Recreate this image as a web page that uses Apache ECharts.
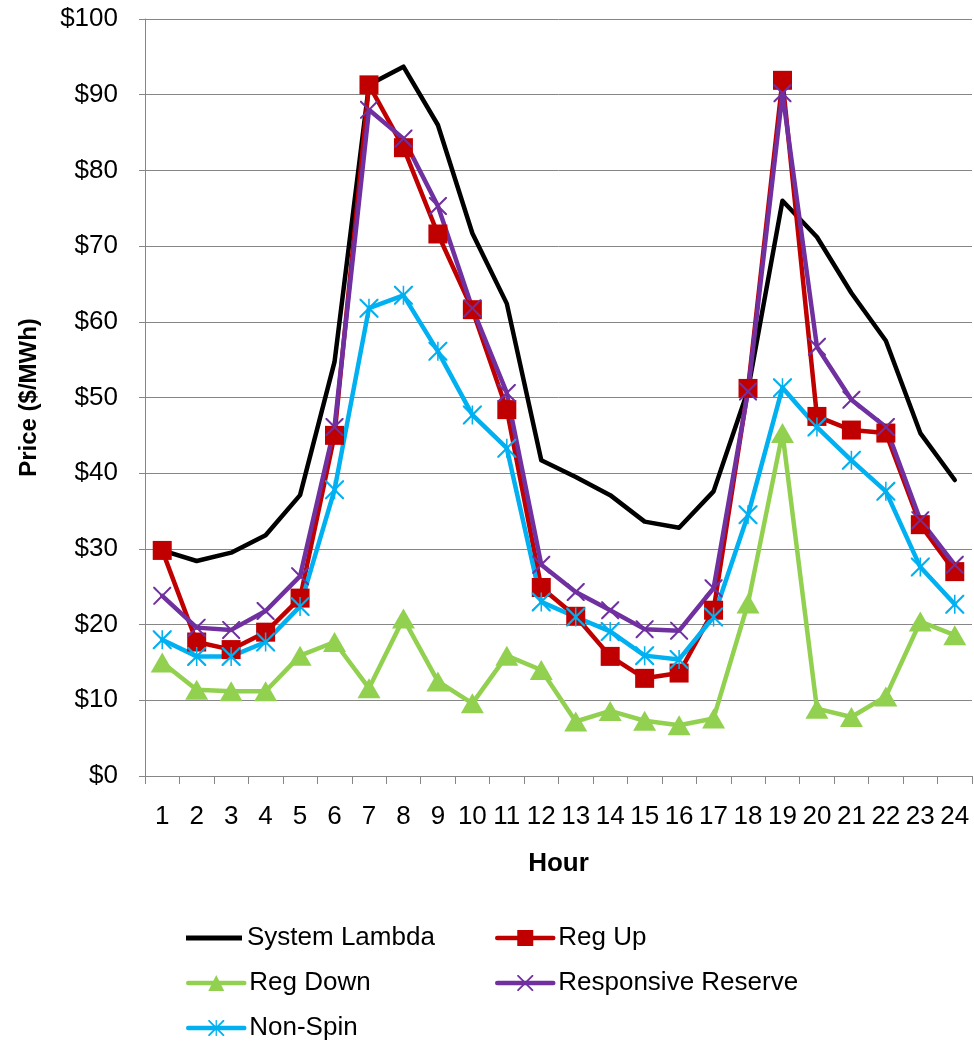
<!DOCTYPE html>
<html>
<head>
<meta charset="utf-8">
<script src="https://cdn.jsdelivr.net/npm/echarts@6/dist/echarts.min.js"></script>
<style>
  html, body { margin: 0; padding: 0; background: #fff; }
  #chart { width: 974px; height: 1043px; }
</style>
</head>
<body>
<div id="chart"></div>
<script>
// Hourly prices ($/MWh)
const hours = ['1','2','3','4','5','6','7','8','9','10','11','12','13','14','15','16','17','18','19','20','21','22','23','24'];
const systemLambda = [29.8, 28.4, 29.5, 31.8, 37.1, 54.7, 91.3, 93.7, 86.0, 71.7, 62.4, 41.7, 39.5, 37.1, 33.6, 32.8, 37.6, 51.0, 76.0, 71.2, 63.8, 57.5, 45.3, 39.1];
const regUp = [29.8, 17.7, 16.7, 19.0, 23.5, 45.0, 91.3, 83.0, 71.6, 61.6, 48.4, 24.9, 21.1, 15.8, 12.9, 13.6, 21.9, 51.2, 91.9, 47.5, 45.7, 45.3, 33.2, 27.0];
const regDown = [15.0, 11.4, 11.2, 11.2, 15.9, 17.7, 11.6, 20.8, 12.5, 9.6, 15.9, 14.0, 7.2, 8.6, 7.3, 6.7, 7.6, 22.8, 45.3, 8.9, 7.8, 10.5, 20.4, 18.6];
const responsiveReserve = [23.8, 19.6, 19.3, 21.8, 26.4, 46.1, 88.0, 84.2, 75.3, 61.8, 50.6, 27.9, 24.3, 21.9, 19.4, 19.2, 24.8, 50.8, 90.2, 56.7, 49.7, 46.1, 33.8, 27.9];
const nonSpin = [18.0, 15.8, 15.8, 17.7, 22.4, 37.8, 61.8, 63.5, 56.1, 47.7, 43.3, 23.0, 21.0, 19.1, 15.9, 15.4, 21.0, 34.5, 51.3, 46.1, 41.7, 37.6, 27.6, 22.7];
const seriesNames = ['System Lambda', 'Reg Up', 'Reg Down', 'Responsive Reserve', 'Non-Spin'];

const FONT = 'Liberation Sans, Arial, sans-serif';
const LINE_W = 4.5;

// thin X and asterisk marker outlines
const xMark = 'path://M0,0 L1.6,0 L10,8.4 L18.4,0 L20,0 L20,1.6 L11.6,10 L20,18.4 L20,20 L18.4,20 L10,11.6 L1.6,20 L0,20 L0,18.4 L8.4,10 L0,1.6 Z';
const starMark = 'path://M0,0 L1.6,0 L10,8.4 L18.4,0 L20,0 L20,1.6 L11.6,10 L20,18.4 L20,20 L18.4,20 L10,11.6 L1.6,20 L0,20 L0,18.4 L8.4,10 L0,1.6 Z M9.2,0 L10.8,0 L10.8,20 L9.2,20 Z';

function lineSeries(name, data, color, symbol, size) {
  return {
    name: name,
    type: 'line',
    data: data,
    symbol: symbol,
    symbolSize: size,
    showSymbol: symbol !== 'none',
    showAllSymbol: true,
    lineStyle: { color: color, width: LINE_W, cap: 'round', join: 'round' },
    itemStyle: { color: color },
    emphasis: { disabled: true },
    animation: false
  };
}

function legendAt(name, left, centerY, opts) {
  const o = opts || {};
  return Object.assign({
    data: [name],
    left: left,
    top: centerY - 13,
    itemWidth: 56,
    itemHeight: 20,
    itemGap: 0,
    padding: 0,
    lineStyle: { width: LINE_W },
    textStyle: { fontFamily: FONT, fontSize: 26, color: '#000', lineHeight: 26 }
  }, o);
}

const chart = echarts.init(document.getElementById('chart'), null, { renderer: 'canvas' });
chart.setOption({
  backgroundColor: '#fff',
  animation: false,
  grid: { left: 145, right: 2, top: 19, bottom: 267, containLabel: false },
  legend: [
    legendAt(seriesNames[0], 186, 938, { icon: 'rect', itemHeight: 5 }),
    legendAt(seriesNames[1], 495, 938),
    legendAt(seriesNames[2], 186, 983),
    legendAt(seriesNames[3], 495, 983),
    legendAt(seriesNames[4], 186, 1028)
  ],
  xAxis: {
    type: 'category',
    data: hours,
    boundaryGap: true,
    name: 'Hour',
    nameLocation: 'middle',
    nameGap: 75,
    nameTextStyle: { fontFamily: FONT, fontSize: 26, fontWeight: 'bold', color: '#000' },
    axisLine: { lineStyle: { color: '#868686', width: 1 } },
    axisTick: { show: true, length: 8, lineStyle: { color: '#868686' } },
    axisLabel: { fontFamily: FONT, fontSize: 26, color: '#000', margin: 28, interval: 0 },
    splitLine: { show: false }
  },
  yAxis: {
    type: 'value',
    min: 0,
    max: 100,
    interval: 10,
    name: 'Price ($/MWh)',
    nameLocation: 'middle',
    nameGap: 104,
    nameRotate: 90,
    nameTextStyle: { fontFamily: FONT, fontSize: 24, fontWeight: 'bold', color: '#000' },
    axisLine: { show: true, lineStyle: { color: '#868686', width: 1 } },
    axisTick: { show: true, length: 6, lineStyle: { color: '#868686' } },
    axisLabel: { fontFamily: FONT, fontSize: 26, color: '#000', margin: 27, formatter: function (v) { return '$' + v; } },
    splitLine: { show: true, lineStyle: { color: '#868686', width: 1 } }
  },
  series: [
    lineSeries(seriesNames[0], systemLambda, '#000000', 'none', 0),
    lineSeries(seriesNames[1], regUp, '#C00000', 'rect', 19),
    lineSeries(seriesNames[2], regDown, '#92D050', 'triangle', [23, 20]),
    lineSeries(seriesNames[3], responsiveReserve, '#7030A0', xMark, 18),
    lineSeries(seriesNames[4], nonSpin, '#00B0F0', starMark, 19)
  ]
});
</script>
</body>
</html>
